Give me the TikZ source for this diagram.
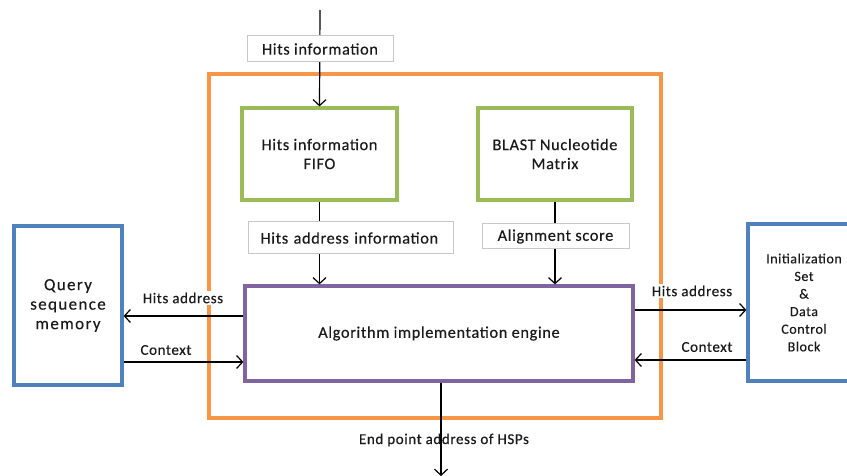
\documentclass[tikz,border=0pt]{standalone}
\usepackage{fontspec}
\setmainfont{Carlito}[LetterSpace=4, FakeBold=0.35]
\usetikzlibrary{arrows.meta}
\definecolor{ocOrange}{HTML}{F79646}
\definecolor{ocGreen}{HTML}{9BBB59}
\definecolor{ocPurple}{HTML}{8064A2}
\definecolor{ocBlue}{HTML}{4F81BD}
\definecolor{ocGray}{HTML}{C8C8C8}
\begin{document}
\begin{tikzpicture}[x=1pt,y=-1pt,
  every node/.style={font=\fontsize{16.3}{19}\selectfont, text=black!90, inner sep=0pt},
  block/.style={draw, line width=3.2pt, align=center},
  greenbox/.style={block, draw=ocGreen},
  bluebox/.style={block, draw=ocBlue},
  tag/.style={draw=ocGray, line width=1pt, fill=white},
  flowlabel/.style={fill=white, inner xsep=3pt, inner ysep=2pt, font=\fontsize{15}{18}\selectfont},
  arr/.style={line width=1.2pt, -{Straight Barb[length=6pt,width=13pt,line width=1.2pt]}},
  plain/.style={line width=1.2pt}]
\useasboundingbox (0,0) rectangle (847,476);
\clip (0,0) rectangle (847,476);

% outer accelerator boundary
\node[draw=ocOrange, line width=3.2pt, minimum width=452pt, minimum height=344pt] (chip) at (435,246) {};

% inner blocks
\node[greenbox, minimum width=155pt, minimum height=92pt] (fifo) at (319.5,154) {Hits information\\FIFO};
\node[greenbox, minimum width=154pt, minimum height=92pt] (blast) at (555,154) {BLAST Nucleotide\\Matrix};
\node[block, draw=ocPurple, minimum width=388pt, minimum height=95pt] (engine) at (439,333.5) {Algorithm implementation engine};

% external blocks
\node[bluebox, minimum width=108pt, minimum height=159pt, font=\fontsize{17}{19.5}\selectfont\addfontfeature{LetterSpace=8, FakeBold=0.25}] (query) at (68,305.5) {Query\\sequence\\memory};
\node[bluebox, minimum width=112pt, minimum height=157pt, font=\fontsize{14}{17.6}\selectfont] (ctrl) at (804,302.5) {Initialization\\Set\\\&\\Data\\Control\\Block};

% input from the top
\coordinate (src) at (320,10);
\draw[arr] (src) -- (fifo.north);
\node[tag, minimum width=146pt, minimum height=26pt] (tinfo) at (320,49) {Hits information};

% FIFO and matrix feed the engine
\draw[arr] (fifo.south) -- (engine.north -| fifo.south);
\node[tag, minimum width=205pt, minimum height=32pt, text width=180pt, align=left] (taddr) at (350.5,238) {Hits address information};
\draw[arr] (blast.south) -- (engine.north -| blast.south);
\node[tag, minimum width=147pt, minimum height=25pt] (tscore) at (555.5,236.5) {Alignment score};

% links to query memory
\draw[arr] (engine.west |- 0,316) -- (query.east |- 0,316);
\node[flowlabel] (lhits) at (183,298) {Hits address};
\draw[arr] (query.east |- 0,362) -- (engine.west |- 0,362);
\node[flowlabel] (lctx) at (166,350) {Context};

% links to control block
\draw[arr] (engine.east |- 0,310) -- (ctrl.west |- 0,310);
\node[flowlabel] (rhits) at (692,291) {Hits address};
\draw[arr] (ctrl.west |- 0,360) -- (engine.east |- 0,360);
\node[flowlabel] (rctx) at (707,347) {Context};

% output
\coordinate (outend) at (441,476);
\coordinate (outmid) at (441,425);
\draw[plain] (engine.south -| outmid) -- (outmid);
\node[flowlabel] (lout) at (444,440) {End point address of HSPs};
\draw[arr] (engine.south -| outmid |- 0,455) -- (outend);
\end{tikzpicture}
\end{document}
